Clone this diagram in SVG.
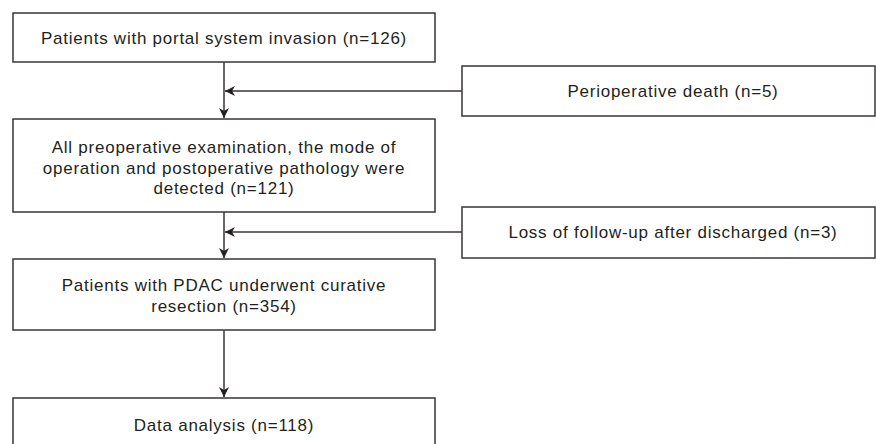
<svg xmlns="http://www.w3.org/2000/svg" width="876" height="444" viewBox="0 0 876 444">
<style>
.box{fill:#fff;stroke:#3a3536;stroke-width:1.5}
.t{font-family:"Liberation Sans",Arial,sans-serif;font-size:17px;letter-spacing:0.75px;fill:#231f20;text-anchor:middle}
.c{stroke:#3a3536;stroke-width:1.5;fill:none}
</style>
<defs>
<marker id="ah" viewBox="0 0 10 10" refX="10" refY="5" markerWidth="10" markerHeight="10" markerUnits="userSpaceOnUse" orient="auto">
<path d="M0,0 L10,5 L0,10 L3,5 Z" fill="#231f20"/>
</marker>
</defs>
<rect width="876" height="444" fill="#fff"/>
<g id="connectors">
<line class="c" x1="224" y1="62" x2="224" y2="118" marker-end="url(#ah)"/>
<line class="c" x1="462" y1="91" x2="225" y2="91" marker-end="url(#ah)"/>
<line class="c" x1="224" y1="212" x2="224" y2="258" marker-end="url(#ah)"/>
<line class="c" x1="462" y1="232" x2="225" y2="232" marker-end="url(#ah)"/>
<line class="c" x1="224" y1="330" x2="224" y2="397" marker-end="url(#ah)"/>
</g>
<g id="n1"><rect class="box" x="13" y="13" width="422" height="49"/><text class="t" x="224" y="44">Patients with portal system invasion (n=126)</text></g>
<g id="n2"><rect class="box" x="462" y="66" width="413" height="50"/><text class="t" x="673" y="97">Perioperative death (n=5)</text></g>
<g id="n3"><rect class="box" x="13" y="119" width="422" height="93"/><text class="t" x="224" y="153">All preoperative examination, the mode of</text><text class="t" x="224" y="173.5">operation and postoperative pathology were</text><text class="t" x="224" y="194">detected (n=121)</text></g>
<g id="n4"><rect class="box" x="462" y="207" width="413" height="51"/><text class="t" x="673" y="238">Loss of follow-up after discharged (n=3)</text></g>
<g id="n5"><rect class="box" x="13" y="259" width="422" height="71"/><text class="t" x="224" y="291">Patients with PDAC underwent curative</text><text class="t" x="224" y="312">resection (n=354)</text></g>
<g id="n6"><rect class="box" x="13" y="398" width="422" height="60"/><text class="t" x="224" y="431">Data analysis (n=118)</text></g>
</svg>
